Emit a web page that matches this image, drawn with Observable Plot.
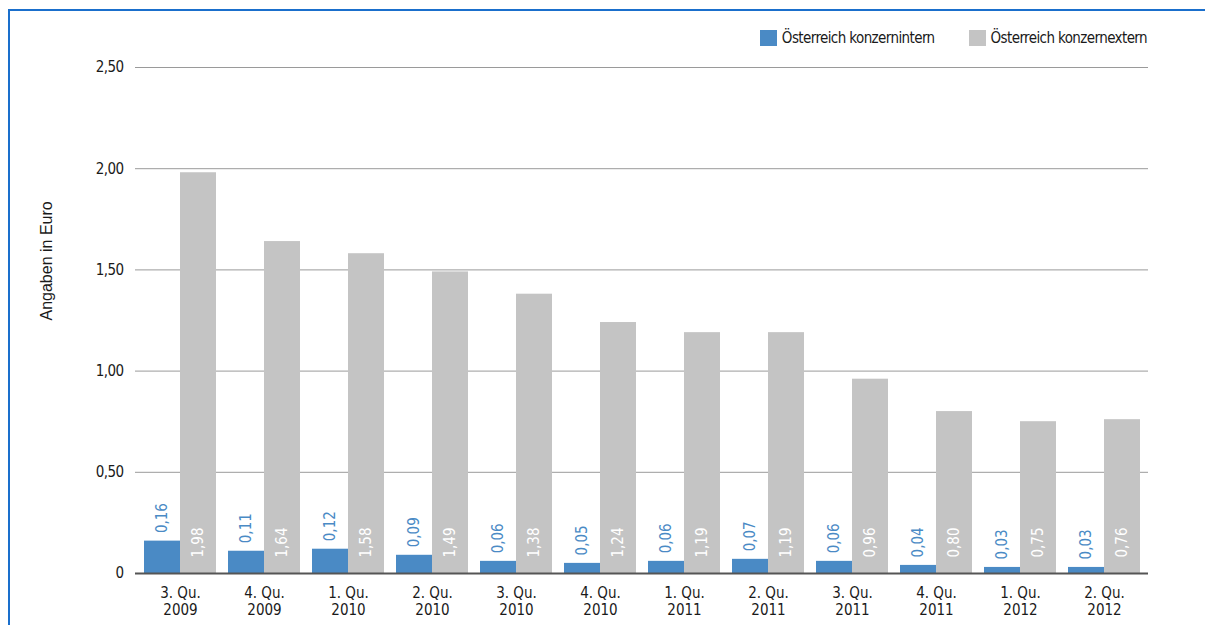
<!DOCTYPE html>
<html>
<head>
<meta charset="utf-8">
<script src="https://cdn.jsdelivr.net/npm/d3@7"></script>
<script src="https://cdn.jsdelivr.net/npm/@observablehq/plot@0.6"></script>
<style>
  html, body { margin: 0; padding: 0; background: #fff; }
  #wrap { position: relative; width: 1205px; height: 625px; overflow: hidden; background: #fff; }
  #frame { position: absolute; left: 8px; top: 9px; width: 1300px; height: 700px;
           border-top: 2px solid #1a6fcc; border-left: 2px solid #1a6fcc; }
  #chart { position: absolute; left: 0; top: 0; }
  #chart svg text.narrow, #chart svg g[aria-label="y-axis tick label"] text { letter-spacing: -0.6px; }
  #legend { position: absolute; right: 58px; top: 29px; display: flex; align-items: center; white-space: nowrap;
            font-family: "Liberation Sans Narrow", "DejaVu Sans Condensed", sans-serif; font-size: 15px;
            letter-spacing: -0.6px; color: #1a1a1a; }
  #legend .sw { width: 17px; height: 16px; margin-right: 5px; }
  #legend .item { display: flex; align-items: center; margin-left: 34px; }
</style>
</head>
<body>
<div id="wrap">
  <div id="frame"></div>
  <div id="chart"></div>
  <div id="legend"></div>
</div>
<script>
const quarters = ["3. Qu. 2009","4. Qu. 2009","1. Qu. 2010","2. Qu. 2010","3. Qu. 2010","4. Qu. 2010","1. Qu. 2011","2. Qu. 2011","3. Qu. 2011","4. Qu. 2011","1. Qu. 2012","2. Qu. 2012"];
const intern = [0.16,0.11,0.12,0.09,0.06,0.05,0.06,0.07,0.06,0.04,0.03,0.03];
const extern = [1.98,1.64,1.58,1.49,1.38,1.24,1.19,1.19,0.96,0.80,0.75,0.76];
const seriesNames = ["Österreich konzernintern","Österreich konzernextern"];
const seriesColors = ["#4a8ac5","#c4c4c4"];
const yTicks = [0,0.5,1,1.5,2,2.5];
const yTitle = "Angaben in Euro";

const fmt = v => v.toFixed(2).replace(".", ",");
const dataIntern = quarters.map((q,i) => ({q, v: intern[i]}));
const dataExtern = quarters.map((q,i) => ({q, v: extern[i]}));
const narrow = '"Liberation Sans Narrow", "DejaVu Sans Condensed", sans-serif';

const plot = Plot.plot({
  width: 1205,
  height: 625,
  marginLeft: 135,
  marginRight: 57,
  marginTop: 67,
  marginBottom: 52,
  style: { fontFamily: narrow, fontSize: "15px", color: "#1a1a1a", background: "transparent" },
  x: { type: "band", domain: quarters, paddingInner: 0.146, paddingOuter: 0.073, axis: null },
  y: { domain: [0, 2.5], ticks: yTicks, tickSize: 0, tickPadding: 12, label: null,
       tickFormat: d => d === 0 ? "0" : fmt(d) },
  marks: [
    Plot.ruleY(yTicks.filter(d => d > 0), { stroke: "#9a9a9a", strokeWidth: 1 }),
    Plot.barY(dataIntern, { x: "q", y: "v", fill: seriesColors[0], insetRight: 36 }),
    Plot.barY(dataExtern, { x: "q", y: "v", fill: seriesColors[1], insetLeft: 36 }),
    Plot.ruleY([0], { stroke: "#555", strokeWidth: 2 }),
    Plot.text(dataIntern, { x: "q", y: "v", text: d => fmt(d.v), rotate: -90, textAnchor: "start",
      dx: -18, dy: -8, fill: "#4a8ac5", fontSize: 15, className: "narrow" }),
    Plot.text(dataExtern, { x: "q", y: () => 0, text: d => fmt(d.v), rotate: -90, textAnchor: "start",
      dx: 18, dy: -16, fill: "#ffffff", fontSize: 15, className: "narrow" }),
    Plot.text(quarters, { x: d => d, frameAnchor: "bottom", lineAnchor: "top", dy: 13, lineHeight: 1.12,
      text: d => d.replace(/ (\d{4})$/, "\n$1"), fill: "#1a1a1a", fontSize: 15, className: "narrow" }),
    Plot.text([yTitle], { frameAnchor: "left", dx: -89, rotate: -90, text: d => d,
      fontFamily: '"Liberation Sans", Arial, sans-serif', fontSize: 16, fill: "#1a1a1a" })
  ]
});
document.getElementById("chart").appendChild(plot);

const legend = document.getElementById("legend");
seriesNames.forEach((n, i) => {
  const item = document.createElement("div");
  item.className = "item";
  const sw = document.createElement("div");
  sw.className = "sw";
  sw.style.background = seriesColors[i];
  const t = document.createElement("span");
  t.textContent = n;
  item.appendChild(sw);
  item.appendChild(t);
  legend.appendChild(item);
});
</script>
</body>
</html>
